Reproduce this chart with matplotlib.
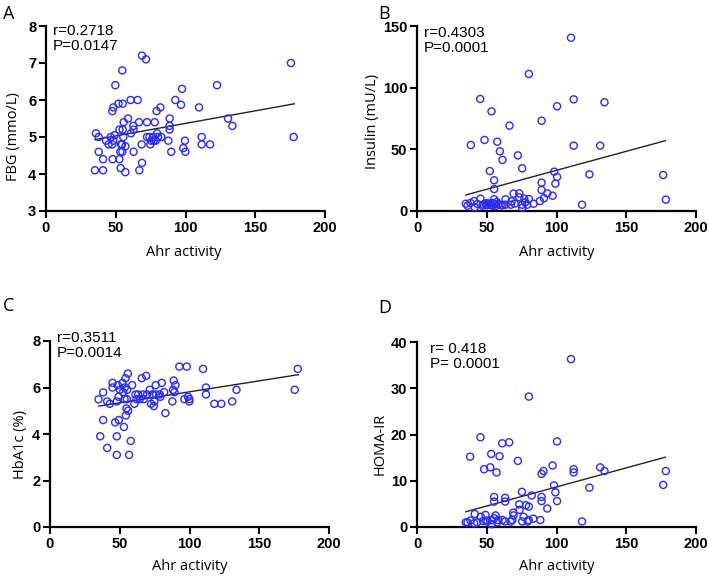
import numpy as np
import matplotlib.pyplot as plt

# panel A: FBG
fbg_x = [35.1, 35.8, 37.8, 37.8, 40.9, 40.9, 43.0, 44.9, 46.4, 47.5, 47.5, 48.3, 47.8, 48.3,
         49.2, 49.7, 51.9, 52.6, 52.6, 53.3, 53.5, 53.8, 54.5, 54.7, 55.0, 54.7, 55.0, 55.4,
         55.7, 56.9, 56.9, 58.8, 60.7, 60.9, 62.6, 62.8, 62.8, 65.7, 66.7, 66.9, 68.6, 68.8,
         68.8, 71.7, 72.4, 72.4, 74.1, 74.8, 75.5, 76.7, 77.2, 77.9, 79.3, 78.6, 79.6, 80.3,
         82.0, 82.7, 87.7, 88.6, 88.6, 88.6, 89.8, 92.7, 96.8, 97.5, 98.4, 99.6, 99.9, 109.7,
         111.6, 111.6, 117.6, 122.6, 130.5, 133.6, 175.6, 177.5]
fbg_y = [4.10, 5.10, 5.00, 4.60, 4.40, 4.10, 4.90, 4.80, 5.00, 4.80, 5.70, 5.80, 4.40, 4.90,
         5.05, 6.40, 5.90, 5.20, 4.40, 4.60, 4.16, 4.80, 4.80, 4.60, 5.90, 6.80, 5.20, 5.00,
         5.40, 4.05, 4.75, 5.50, 6.00, 5.10, 5.30, 5.20, 4.60, 6.00, 5.40, 4.10, 4.80, 7.20,
         4.30, 7.10, 5.40, 5.00, 5.00, 4.80, 4.90, 5.00, 4.90, 5.40, 5.70, 4.90, 5.10, 5.00,
         5.80, 5.00, 4.90, 5.50, 5.30, 5.20, 4.60, 6.00, 5.87, 6.30, 4.70, 4.90, 4.60, 5.80,
         5.00, 4.80, 4.80, 6.40, 5.50, 5.30, 7.00, 5.00]

# panel B: insulin
ins_x = [35.0, 36.2, 38.6, 38.3, 41.0, 41.4, 43.4, 45.5, 45.3, 46.9, 48.4, 49.1, 49.8, 50.5,
         52.2, 53.4, 52.9, 54.1, 55.3, 55.3, 55.3, 55.8, 56.5, 57.5, 57.2, 58.2, 59.4, 61.3,
         61.3, 63.5, 63.5, 66.3, 67.3, 67.8, 69.2, 72.3, 73.3, 73.3, 75.4, 75.4, 75.4, 76.9,
         79.0, 80.2, 80.2, 83.6, 88.1, 89.3, 89.3, 89.3, 91.0, 93.4, 97.2, 98.4, 99.2, 100.4,
         100.4, 110.4, 112.3, 112.3, 118.3, 123.6, 131.3, 134.4, 176.5, 178.4, 52.2, 47.5,
         54.0, 60.0, 70.0, 77.5]
ins_y = [5.9, 4.3, 53.5, 6.5, 8.1, 3.0, 5.7, 10.0, 90.8, 4.3, 57.6, 6.2, 4.6, 6.2,
         32.4, 80.8, 4.9, 4.3, 24.9, 17.8, 9.5, 5.7, 4.1, 56.2, 7.3, 5.4, 48.4, 41.4,
         4.6, 9.5, 5.1, 69.2, 5.1, 7.8, 14.1, 45.1, 14.3, 11.1, 34.6, 5.1, 2.7, 10.0,
         5.1, 9.7, 111.1, 5.9, 8.1, 73.2, 23.0, 17.0, 10.3, 14.3, 12.4, 31.9, 22.2, 84.9,
         27.6, 140.5, 53.0, 90.5, 5.1, 29.7, 53.0, 88.1, 29.2, 9.2, 5.9, 5.2,
         6.5, 4.8, 6.0, 7.0]

# panel C: HbA1c
hba_x = [34.8, 36.0, 38.1, 38.1, 41.0, 41.0, 42.9, 44.8, 44.8, 46.7, 47.9, 47.9, 47.9, 48.6,
         49.1, 49.3, 50.1, 52.0, 52.4, 53.0, 53.4, 53.6, 54.1, 54.4, 54.8, 55.1, 55.8, 56.0,
         55.3, 56.7, 57.9, 58.9, 60.5, 61.3, 62.0, 63.2, 64.4, 65.8, 66.7, 67.2, 68.9, 69.6,
         71.5, 72.5, 73.4, 74.4, 74.8, 75.8, 76.0, 78.7, 79.1, 80.1, 81.8, 82.7, 87.7, 88.2,
         88.7, 89.2, 89.9, 92.7, 96.3, 98.0, 98.9, 99.9, 99.9, 109.7, 111.8, 111.8, 117.8,
         122.8, 130.6, 133.7, 175.4, 177.6]
hba_y = [5.49, 3.9, 5.79, 4.6, 3.4, 5.4, 5.3, 6.2, 6.0, 4.5, 3.9, 3.1, 5.4, 6.1,
         5.6, 4.6, 5.9, 6.2, 5.8, 4.3, 5.5, 6.0, 6.4, 4.8, 5.1, 5.5, 6.6, 5.0,
         5.9, 3.1, 3.7, 6.1, 5.3, 5.7, 5.5, 5.7, 5.5, 6.4, 5.7, 5.5, 6.5, 5.7,
         5.9, 5.3, 5.7, 5.2, 5.4, 6.1, 5.7, 5.7, 5.6, 6.2, 5.8, 4.9, 5.4, 5.9,
         6.3, 5.8, 6.1, 6.9, 5.5, 6.9, 5.6, 5.4, 5.5, 6.8, 6.0, 5.7, 5.3,
         5.3, 5.4, 5.9, 5.9, 6.8]

# panel D: HOMA-IR
homa_x = [35.0, 36.2, 38.1, 38.3, 41.4, 41.0, 43.1, 45.5, 45.7, 47.4, 48.1, 49.1, 49.3, 50.5,
          52.5, 53.2, 53.4, 53.4, 55.3, 55.3, 55.3, 56.3, 57.0, 57.5, 58.2, 59.2, 61.1, 61.3,
          63.2, 63.2, 63.2, 66.1, 67.1, 68.3, 69.0, 69.2, 72.3, 73.3, 73.5, 75.2, 75.4, 76.4,
          78.1, 79.3, 80.0, 80.2, 80.2, 82.2, 83.4, 88.4, 89.3, 89.3, 89.3, 90.7, 93.4, 97.2,
          98.2, 99.2, 100.4, 100.4, 110.4, 112.3, 112.3, 118.3, 123.6, 131.3, 134.4, 176.5, 178.4]
homa_y = [1.0, 1.0, 15.2, 1.4, 2.8, 0.8, 1.0, 19.4, 2.2, 1.3, 12.5, 2.6, 1.4, 1.2,
          12.9, 15.8, 1.5, 0.6, 6.5, 5.5, 1.9, 2.5, 11.8, 1.0, 1.5, 15.3, 18.1, 1.5,
          6.3, 5.5, 1.2, 18.3, 1.2, 1.5, 3.1, 2.5, 14.3, 4.9, 3.7, 7.6, 1.2, 2.2,
          4.7, 1.2, 1.5, 4.4, 28.2, 6.8, 1.8, 1.5, 11.5, 6.5, 5.6, 12.1, 4.0, 13.3,
          9.0, 7.5, 18.5, 5.6, 36.3, 12.5, 11.8, 1.2, 8.5, 12.9, 12.1, 9.1, 12.1]

# regression lines as drawn (slope, intercept)
fit_lines = [(0.00678, 4.69), (0.3077, 2.23), (0.00944, 4.87), (0.0825, 0.41)]
fit_range = [35, 178]

letters = ['A', 'B', 'C', 'D']
ylabels = ['FBG (mmo/L)', 'Insulin (mU/L)', 'HbA1c (%)', 'HOMA-IR']
stats = ['r=0.2718\nP=0.0147', 'r=0.4303\nP=0.0001', 'r=0.3511\nP=0.0014', 'r= 0.418\nP= 0.0001']
yticks = [[3, 4, 5, 6, 7, 8], [0, 50, 100, 150], [0, 2, 4, 6, 8], [0, 10, 20, 30, 40]]
xticks = [0, 50, 100, 150, 200]

xs = [fbg_x, ins_x, hba_x, homa_x]
ys = [fbg_y, ins_y, hba_y, homa_y]

W, H = 709, 578
fig = plt.figure(figsize=(W / 100, H / 100), dpi=100)

# axes boxes in pixels: left, top, right, bottom
boxes = [(46, 26, 325, 211), (417, 26, 696, 211), (50, 341, 329, 527), (417, 342, 696, 527)]
stat_pos = [(0.025, 1.01), (0.025, 1.0), (0.025, 1.055), (0.045, 1.0)]
letter_pos = [(3, 5), (378, 5), (3, 297), (378, 299)]
ylab_pos = [(-0.118, 0.40), (-0.158, 0.486), (-0.104, 0.446), (-0.133, 0.449)]
xlab_pos = [(0.495, -0.227), (0.5, -0.227), (0.5, -0.215), (0.5, -0.216)]

blue = '#2a2aff'
for i in range(4):
    l, t, r, b = boxes[i]
    ax = fig.add_axes([l / W, (H - b) / H, (r - l) / W, (b - t) / H])
    ax.scatter(xs[i], ys[i], s=26, facecolors='none', edgecolors=blue, linewidths=1.0,
               zorder=3, clip_on=False)
    k, c = fit_lines[i]
    lx = np.array(fit_range)
    ax.plot(lx, k * lx + c, color='#222222', lw=1.0, zorder=2)

    ax.set_xlim(0, 200)
    ax.set_ylim(yticks[i][0], yticks[i][-1])
    ax.set_xticks(xticks)
    ax.set_yticks(yticks[i])
    for s in ['top', 'right']:
        ax.spines[s].set_visible(False)
    for s in ['left', 'bottom']:
        ax.spines[s].set_linewidth(1.6)
    ax.tick_params(direction='out', length=5, width=1.5, pad=2)
    for lab in ax.get_xticklabels() + ax.get_yticklabels():
        lab.set_fontfamily('Liberation Sans')
        lab.set_fontweight('bold')
        lab.set_fontsize(10.5)
    ax.set_xlabel('Ahr activity', family='Open Sans', fontsize=10.5, va='center')
    ax.xaxis.set_label_coords(*xlab_pos[i])
    ax.set_ylabel(ylabels[i], family='Open Sans', fontsize=10.5, va='center')
    ax.yaxis.set_label_coords(*ylab_pos[i])
    ax.text(stat_pos[i][0], stat_pos[i][1], stats[i], transform=ax.transAxes,
            ha='left', va='top', fontsize=11, family='Liberation Sans', linespacing=1.1)
    fig.text(letter_pos[i][0] / W, 1 - letter_pos[i][1] / H, letters[i],
             ha='left', va='top', fontsize=13, family='Open Sans')

fig.savefig('out.png', dpi=100)
